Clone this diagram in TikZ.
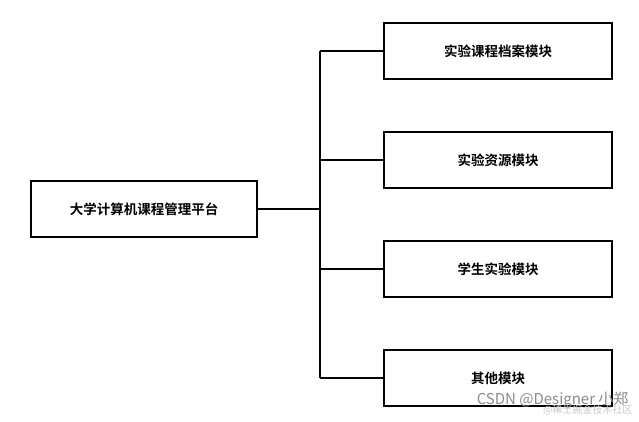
\documentclass[tikz,border=0pt]{standalone}
\usepackage{fontspec}
\newfontfamily\cjk{Noto Sans CJK SC}
\newfontfamily\cjkb{Noto Sans CJK SC Bold}
\begin{document}
\begin{tikzpicture}[x=1pt,y=-1pt,
  box/.style={draw,line width=1.2pt,minimum width=228pt,minimum height=56pt,font=\cjkb\fontsize{13.5}{16}\selectfont,inner sep=0pt},
  ln/.style={line width=1.2pt}]
\useasboundingbox[fill=white] (0,0) rectangle (639,421);
\node[box,minimum width=226pt] (root) at (144,209) {大学计算机课程管理平台};
\node[box] (a) at (498,51) {实验课程档案模块};
\node[box] (b) at (498,160) {实验资源模块};
\node[box] (c) at (498,269) {学生实验模块};
\node[box] (d) at (498,378) {其他模块};
\coordinate (j) at (320,209);
\coordinate (ta) at (320,51);
\coordinate (td) at (320,378);
\draw[ln] (root.east) -- (j);
\draw[ln] (ta) -- (td);
\draw[ln] (ta) -- (a.west);
\draw[ln] (320,160) -- (b.west);
\draw[ln] (320,269) -- (c.west);
\draw[ln] (td) -- (d.west);
\node[font=\cjk\fontsize{15}{17}\selectfont,text=black!45,anchor=east] (wm) at (632,400) {CSDN @Designer 小郑};
\node[font=\cjk\fontsize{10}{12}\selectfont,text=black!22,anchor=east] (wm2) at (636,410) {@稀土掘金技术社区};
\end{tikzpicture}
\end{document}
